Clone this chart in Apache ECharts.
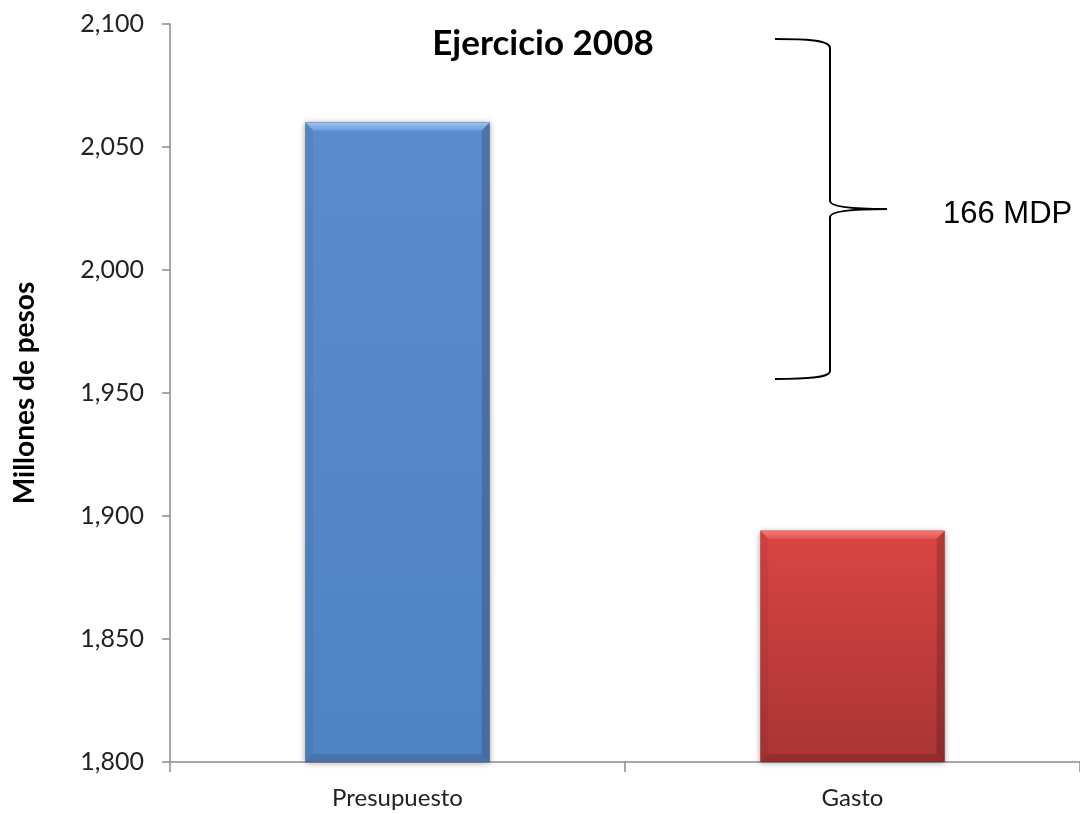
<!DOCTYPE html>
<html>
<head>
<meta charset="utf-8">
<title>Ejercicio 2008</title>
<script src="https://cdn.jsdelivr.net/npm/echarts@6/dist/echarts.min.js"></script>
<style>
  html, body { margin: 0; padding: 0; background: #ffffff; }
  #chart { width: 1080px; height: 814px; }
</style>
</head>
<body>
<div id="chart"></div>
<script>
// Presupuesto vs. gasto, millones de pesos
const categories = ['Presupuesto', 'Gasto'];
const values = [2060, 1894];
const AXIS_MIN = 1800;
const AXIS_MAX = 2100;
const AXIS_STEP = 50;
const titleText = 'Ejercicio 2008';
const axisName = 'Millones de pesos';
const differenceLabel = (values[0] - values[1]) + ' MDP';

// bevelled bar colours, one entry per category
const barStyles = [
  { top: '#5A8CCD', bottom: '#5083C3', light: '#9CC2EE', mid: '#6E9EDB' },
  { top: '#DA4543', bottom: '#A93533', light: '#F47A77', mid: '#E45654' }
];

const fmt = v => v.toLocaleString('en-US');

function vGrad(c0, c1) {
  return {
    type: 'linear', x: 0, y: 0, x2: 0, y2: 1,
    colorStops: [{ offset: 0, color: c0 }, { offset: 1, color: c1 }]
  };
}

function renderBar(params, api) {
  const idx = api.value(0);
  const val = api.value(1);
  const top = api.coord([idx, val]);
  const base = api.coord([idx, AXIS_MIN]);
  const w = api.size([1, 0])[0] * 0.405;
  const x0 = top[0] - w / 2, x1 = top[0] + w / 2;
  const y0 = top[1], y1 = base[1];
  const b = 8;
  const s = barStyles[idx];
  return {
    type: 'group',
    children: [
      {
        type: 'rect',
        shape: { x: x0, y: y0, width: w, height: y1 - y0 },
        style: {
          fill: vGrad(s.top, s.bottom),
          shadowBlur: 6, shadowColor: 'rgba(0,0,0,0.35)', shadowOffsetX: 0, shadowOffsetY: 1
        }
      },
      { // left bevel
        type: 'polygon',
        shape: { points: [[x0, y0], [x0 + b, y0 + b], [x0 + b, y1 - b], [x0, y1]] },
        style: { fill: 'rgba(0,0,0,0.05)' }
      },
      { // right bevel
        type: 'polygon',
        shape: { points: [[x1, y0], [x1 - b, y0 + b], [x1 - b, y1 - b], [x1, y1]] },
        style: { fill: 'rgba(0,0,0,0.17)' }
      },
      { // bottom bevel
        type: 'polygon',
        shape: { points: [[x0, y1], [x0 + b, y1 - b], [x1 - b, y1 - b], [x1, y1]] },
        style: { fill: 'rgba(0,0,0,0.12)' }
      },
      { // top bevel highlight
        type: 'polygon',
        shape: { points: [[x0, y0], [x1, y0], [x1 - b, y0 + b], [x0 + b, y0 + b]] },
        style: { fill: vGrad(s.light, s.mid) }
      },
      { // thin outline
        type: 'rect',
        shape: { x: x0, y: y0, width: w, height: y1 - y0 },
        style: { fill: 'none', stroke: 'rgba(0,0,0,0.15)', lineWidth: 1 }
      }
    ]
  };
}

const chart = echarts.init(document.getElementById('chart'), null, { renderer: 'canvas' });

const braceStyle = { stroke: '#000000', lineWidth: 2, fill: 'none' };

chart.setOption({
  animation: false,
  backgroundColor: '#ffffff',
  grid: { left: 170, top: 24, bottom: 52, width: 914, containLabel: false },
  xAxis: {
    type: 'category',
    data: categories,
    axisLine: { lineStyle: { color: '#8C8C8C', width: 1.5 } },
    axisTick: { show: true, length: 10, alignWithLabel: false, lineStyle: { color: '#8C8C8C', width: 1.5 } },
    axisLabel: { fontFamily: 'Lato', fontSize: 24, color: '#222222', margin: 24 }
  },
  yAxis: {
    type: 'value',
    min: AXIS_MIN,
    max: AXIS_MAX,
    interval: AXIS_STEP,
    name: axisName,
    nameLocation: 'middle',
    nameRotate: 90,
    nameGap: 131,
    nameTextStyle: { fontFamily: 'Lato', fontWeight: 'bold', fontSize: 28, color: '#000000' },
    splitLine: { show: false },
    axisLine: { show: true, lineStyle: { color: '#8C8C8C', width: 1.5 } },
    axisTick: { show: true, length: 8, lineStyle: { color: '#8C8C8C', width: 1.5 } },
    axisLabel: { fontFamily: 'Lato', fontSize: 25, color: '#222222', margin: 26, formatter: fmt }
  },
  series: [{
    type: 'custom',
    renderItem: renderBar,
    encode: { x: 0, y: 1 },
    data: values.map((v, i) => [i, v]),
    z: 2
  }],
  graphic: [
    {
      type: 'text',
      x: 543, y: 44,
      style: {
        text: titleText,
        fontFamily: 'Lato', fontWeight: 'bold', fontSize: 35, fill: '#000000',
        align: 'center', verticalAlign: 'middle'
      }
    },
    // curly brace next to the difference label
    { type: 'bezierCurve', shape: { x1: 775, y1: 39, cpx1: 805, cpy1: 39, cpx2: 830, cpy2: 40, x2: 830, y2: 48 }, style: braceStyle },
    { type: 'line', shape: { x1: 830, y1: 48, x2: 830, y2: 201 }, style: braceStyle },
    { type: 'bezierCurve', shape: { x1: 830, y1: 201, cpx1: 830, cpy1: 206, cpx2: 848, cpy2: 209, x2: 887, y2: 209 }, style: braceStyle },
    { type: 'bezierCurve', shape: { x1: 887, y1: 209, cpx1: 848, cpy1: 209, cpx2: 830, cpy2: 212, x2: 830, y2: 217 }, style: braceStyle },
    { type: 'line', shape: { x1: 830, y1: 217, x2: 830, y2: 371 }, style: braceStyle },
    { type: 'bezierCurve', shape: { x1: 830, y1: 371, cpx1: 830, cpy1: 378, cpx2: 805, cpy2: 379, x2: 775, y2: 379 }, style: braceStyle },
    {
      type: 'text',
      x: 943, y: 214,
      style: {
        text: differenceLabel,
        fontFamily: 'Liberation Sans', fontSize: 31, fill: '#000000',
        align: 'left', verticalAlign: 'middle'
      }
    }
  ]
});
</script>
</body>
</html>
